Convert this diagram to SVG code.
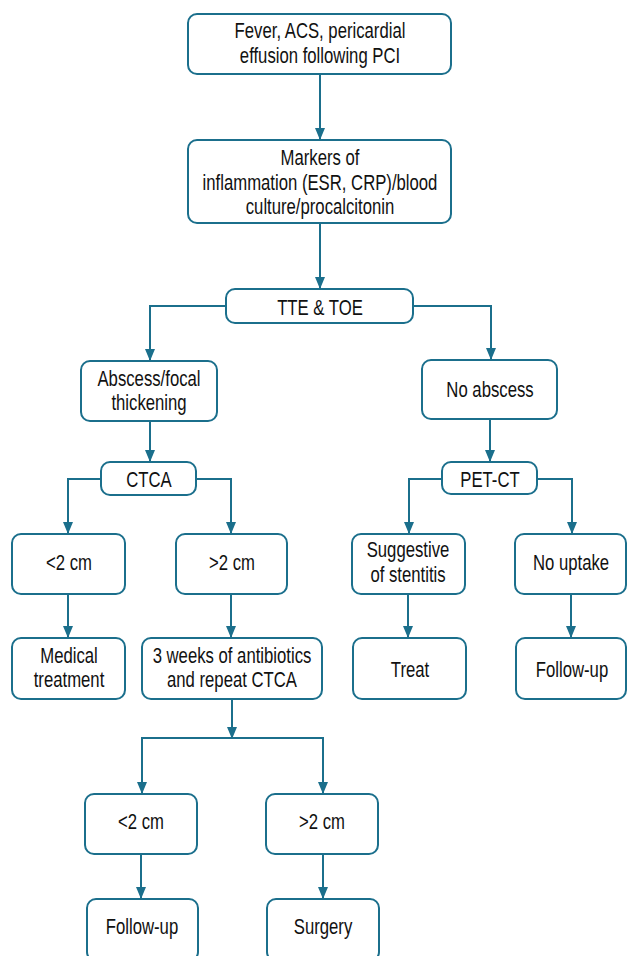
<svg xmlns="http://www.w3.org/2000/svg" width="627" height="956" viewBox="0 0 627 956">
<style>
.b{fill:#fff;stroke:#1b6f8c;stroke-width:2}
.c{fill:none;stroke:#1b6f8c;stroke-width:2}
text{font-family:"Liberation Sans",Arial,sans-serif;font-size:22px;fill:#111;text-anchor:middle}
</style>
<rect width="627" height="956" fill="#fff"/>
<g id="connectors">
<path class="c" d="M320,74V140"/>
<path class="c" d="M320,223V289"/>
<path class="c" d="M226,306H150V361"/>
<path class="c" d="M413,306H491V360"/>
<path class="c" d="M150,421V462"/>
<path class="c" d="M490,419V462"/>
<path class="c" d="M101,479H68V534"/>
<path class="c" d="M196,479H231V534"/>
<path class="c" d="M442,479H409V534"/>
<path class="c" d="M537,479H572V534"/>
<path class="c" d="M68,594V638"/>
<path class="c" d="M231,594V638"/>
<path class="c" d="M408,594V638"/>
<path class="c" d="M571,594V638"/>
<path class="c" d="M232,699V738"/>
<path class="c" d="M232,738H142V794"/>
<path class="c" d="M232,738H323V794"/>
<path class="c" d="M141,854V899"/>
<path class="c" d="M323,854V899"/>
<g fill="#1b6f8c">
<path d="M315,128L325,128L320,140z"/>
<path d="M315,277L325,277L320,289z"/>
<path d="M145,349L155,349L150,361z"/>
<path d="M486,348L496,348L491,360z"/>
<path d="M145,450L155,450L150,462z"/>
<path d="M485,450L495,450L490,462z"/>
<path d="M63,522L73,522L68,534z"/>
<path d="M226,522L236,522L231,534z"/>
<path d="M404,522L414,522L409,534z"/>
<path d="M567,522L577,522L572,534z"/>
<path d="M63,626L73,626L68,638z"/>
<path d="M226,626L236,626L231,638z"/>
<path d="M403,626L413,626L408,638z"/>
<path d="M566,626L576,626L571,638z"/>
<path d="M227,727L237,727L232,739z"/>
<path d="M137,782L147,782L142,794z"/>
<path d="M318,782L328,782L323,794z"/>
<path d="M136,887L146,887L141,899z"/>
<path d="M318,887L328,887L323,899z"/>
</g>
</g>
<g id="n1"><rect class="b" x="188" y="14" width="263" height="60" rx="9"/><text transform="translate(320 38) scale(0.76 1)">Fever, ACS, pericardial</text><text transform="translate(320 63) scale(0.76 1)">effusion following PCI</text></g>
<g id="n2"><rect class="b" x="188" y="140" width="263" height="83" rx="9"/><text transform="translate(320 165) scale(0.76 1)">Markers of</text><text transform="translate(320 190) scale(0.76 1)">inflammation (ESR, CRP)/blood</text><text transform="translate(320 214) scale(0.76 1)">culture/procalcitonin</text></g>
<g id="n3"><rect class="b" x="226" y="289" width="187" height="34" rx="9"/><text transform="translate(320 315) scale(0.76 1)">TTE &amp; TOE</text></g>
<g id="n4"><rect class="b" x="81" y="361" width="136" height="60" rx="9"/><text transform="translate(149 386) scale(0.76 1)">Abscess/focal</text><text transform="translate(149 410) scale(0.76 1)">thickening</text></g>
<g id="n5"><rect class="b" x="422" y="360" width="135" height="59" rx="9"/><text transform="translate(490 397) scale(0.76 1)">No abscess</text></g>
<g id="n6"><rect class="b" x="101" y="462" width="95" height="33" rx="9"/><text transform="translate(149 487) scale(0.76 1)">CTCA</text></g>
<g id="n7"><rect class="b" x="442" y="462" width="95" height="32" rx="9"/><text transform="translate(490 487) scale(0.76 1)">PET-CT</text></g>
<g id="n8"><rect class="b" x="12" y="534" width="113" height="60" rx="9"/><text transform="translate(69 570) scale(0.76 1)">&lt;2 cm</text></g>
<g id="n9"><rect class="b" x="176" y="534" width="111" height="60" rx="9"/><text transform="translate(232 570) scale(0.76 1)">&gt;2 cm</text></g>
<g id="n10"><rect class="b" x="352" y="534" width="113" height="60" rx="9"/><text transform="translate(408 557) scale(0.76 1)">Suggestive</text><text transform="translate(408 582) scale(0.76 1)">of stentitis</text></g>
<g id="n11"><rect class="b" x="515" y="534" width="111" height="60" rx="9"/><text transform="translate(571 570) scale(0.76 1)">No uptake</text></g>
<g id="n12"><rect class="b" x="12" y="638" width="113" height="61" rx="9"/><text transform="translate(69 663) scale(0.76 1)">Medical</text><text transform="translate(69 687) scale(0.76 1)">treatment</text></g>
<g id="n13"><rect class="b" x="142" y="638" width="180" height="61" rx="9"/><text transform="translate(232 663) scale(0.76 1)">3 weeks of antibiotics</text><text transform="translate(232 687) scale(0.76 1)">and repeat CTCA</text></g>
<g id="n14"><rect class="b" x="353" y="638" width="113" height="61" rx="9"/><text transform="translate(410 677) scale(0.76 1)">Treat</text></g>
<g id="n15"><rect class="b" x="516" y="638" width="110" height="61" rx="9"/><text transform="translate(572 677) scale(0.76 1)">Follow-up</text></g>
<g id="n16"><rect class="b" x="85" y="794" width="112" height="60" rx="9"/><text transform="translate(141 829) scale(0.76 1)">&lt;2 cm</text></g>
<g id="n17"><rect class="b" x="266" y="794" width="112" height="60" rx="9"/><text transform="translate(322 829) scale(0.76 1)">&gt;2 cm</text></g>
<g id="n18"><rect class="b" x="87" y="899" width="111" height="62" rx="9"/><text transform="translate(142 934) scale(0.76 1)">Follow-up</text></g>
<g id="n19"><rect class="b" x="267" y="899" width="112" height="62" rx="9"/><text transform="translate(323 934) scale(0.76 1)">Surgery</text></g>
</svg>
